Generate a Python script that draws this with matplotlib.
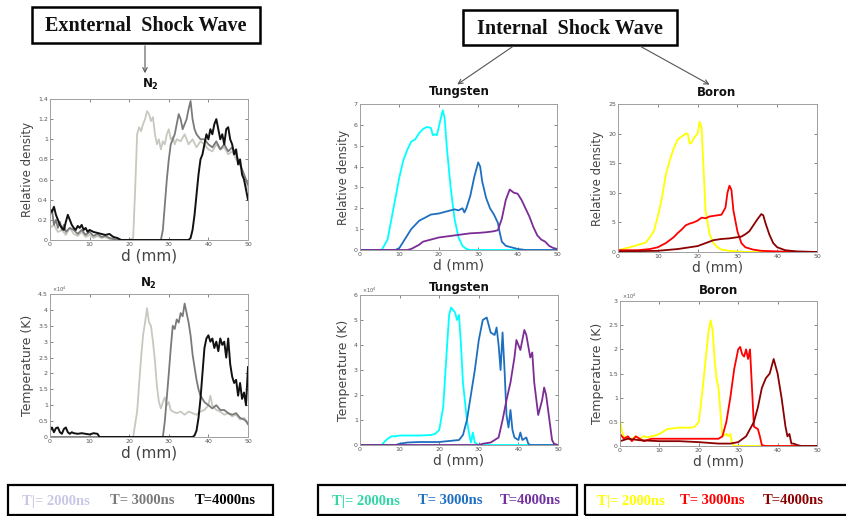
"""
Shock wave profiles - external (N2) and internal (Tungsten / Boron)
Relative density and temperature vs distance at three times
"""

import matplotlib
matplotlib.use("Agg")
import matplotlib.pyplot as plt
import matplotlib.patches as patches
from matplotlib.ticker import FuncFormatter

W, H = 846, 516

# ---------------- External shock wave, N2 ----------------
# relative density
n2_den_x_2000 = [0, 1, 2, 3, 4, 5, 6, 7, 8, 9, 10, 11, 12, 13, 14, 15, 16, 17, 18, 19, 20, 21,
                 21.5, 22, 22.5, 23, 23.5, 24, 24.5, 25, 25.5, 26, 26.5, 27, 27.5, 28, 28.5, 29,
                 29.5, 30, 30.5, 31, 31.5, 32, 33, 34, 35, 36, 37, 38, 39, 40, 41, 42, 43, 44,
                 45, 46, 47, 48, 49, 50]
n2_den_y_2000 = [0.12, 0.15, 0.08, 0.1, 0.05, 0.12, 0.06, 0.04, 0.08, 0.03, 0.05, 0.02, 0.04, 0.02,
                 0.03, 0.01, 0, 0, 0, 0, 0, 0.02, 0.5, 1.05, 1.12, 1.08, 1.15, 1.2, 1.28, 1.25,
                 1.18, 1.22, 1.05, 0.95, 1.0, 0.9, 0.98, 0.95, 1.05, 1.1, 1.0, 1.02, 0.95, 1.0,
                 0.98, 1.05, 0.95, 1.0, 0.92, 0.98, 0.95, 0.9, 0.88, 0.95, 0.9, 0.92, 0.85, 0.88,
                 0.8, 0.75, 0.65, 0.5]

n2_den_x_3000 = [0, 0.5, 1, 1.5, 2, 2.5, 3, 3.5, 4, 5, 6, 7, 8, 9, 10, 11, 12, 13, 14, 15, 16, 17,
                 28, 28.5, 29, 29.5, 30, 30.5, 31, 31.5, 32, 32.5, 33, 33.5, 34, 34.5, 35, 35.5,
                 36, 36.5, 37, 38, 39, 40, 41, 42, 43, 44, 45, 46, 47, 48, 49, 50]
n2_den_y_3000 = [0.25, 0.3, 0.15, 0.2, 0.12, 0.18, 0.1, 0.15, 0.08, 0.12, 0.1, 0.06, 0.1, 0.05,
                 0.08, 0.04, 0.06, 0.03, 0.04, 0.02, 0.01, 0, 0, 0.1, 0.35, 0.6, 0.8, 0.95, 1.0,
                 1.05, 1.15, 1.25, 1.2, 1.1, 1.15, 1.2, 1.3, 1.38, 1.2, 1.1, 1.05, 1.0, 1.0, 0.95,
                 0.92, 0.98, 0.9, 0.95, 0.88, 0.92, 0.85, 0.75, 0.65, 0.55]

n2_den_x_4000 = [0, 0.5, 1, 1.5, 2, 2.5, 3, 3.5, 4, 4.5, 5, 5.5, 6, 6.5, 7, 7.5, 8, 8.5, 9, 9.5,
                 10, 11, 12, 13, 14, 15, 16, 17, 18, 35, 35.5, 36, 36.5, 37, 37.5, 38, 38.5, 39,
                 39.5, 40, 40.5, 41, 41.5, 42, 42.5, 43, 43.5, 44, 44.5, 45, 45.5, 46, 46.5, 47,
                 47.5, 48, 48.5, 49, 49.5, 50]
n2_den_y_4000 = [0.3, 0.28, 0.33, 0.25, 0.2, 0.15, 0.12, 0.1, 0.18, 0.25, 0.2, 0.15, 0.12, 0.1,
                 0.14, 0.12, 0.15, 0.1, 0.12, 0.08, 0.1, 0.08, 0.07, 0.06, 0.05, 0.06, 0.03, 0.02,
                 0, 0, 0.02, 0.1, 0.25, 0.45, 0.65, 0.8, 0.85, 0.95, 1.05, 1.0, 1.1, 1.05, 1.15,
                 1.2, 1.1, 1.0, 1.05, 0.95, 1.1, 1.12, 1.0, 0.95, 0.85, 0.9, 0.75, 0.8, 0.65, 0.6,
                 0.5, 0.4]

# temperature (x 10^4 K)
n2_tmp_x_2000 = [0, 21, 22, 23, 23.5, 24, 24.5, 25, 25.5, 26, 26.5, 27, 27.5, 28, 28.5, 29, 29.5,
                 30, 30.5, 31, 32, 33, 34, 35, 36, 37, 38, 39, 40, 40.5, 41, 42, 43, 44, 45, 46,
                 47, 48, 49, 50]
n2_tmp_y_2000 = [0, 0, 0.8, 2.5, 3.2, 3.6, 4.05, 3.6, 3.5, 3.0, 2.4, 1.6, 1.1, 0.9, 1.1, 1.25, 1.0,
                 1.1, 0.85, 0.8, 0.75, 0.8, 0.7, 0.8, 0.75, 0.7, 0.8, 0.85, 1.0, 1.3, 1.0, 0.85,
                 0.8, 0.7, 0.75, 0.65, 0.7, 0.55, 0.6, 0.45]

n2_tmp_x_3000 = [0, 28.5, 29, 30, 30.5, 31, 31.5, 32, 32.5, 33, 33.5, 34, 34.5, 35, 35.5, 36, 36.5,
                 37, 37.5, 38, 38.5, 39, 40, 41, 42, 43, 44, 45, 46, 47, 48, 49, 49.5, 50]
n2_tmp_y_3000 = [0, 0, 0.5, 2.0, 2.8, 3.5, 3.4, 3.7, 3.6, 3.9, 3.8, 4.2, 3.9, 3.6, 3.2, 2.6, 2.2,
                 1.8, 1.5, 1.3, 1.2, 1.1, 1.0, 0.9, 1.0, 0.85, 0.85, 0.75, 0.7, 0.75, 0.6, 0.55,
                 0.5, 0.4]

n2_tmp_x_4000 = [0, 0.5, 1, 1.5, 2, 2.5, 3, 3.5, 4, 4.5, 5, 5.5, 6, 7, 8, 9, 10, 11, 12, 12.5, 36,
                 36.5, 37, 37.5, 38, 38.5, 39, 39.5, 40, 40.5, 41, 41.5, 42, 42.5, 43, 43.5, 44,
                 44.5, 45, 45.5, 46, 46.5, 47, 47.5, 48, 48.5, 49, 49.5, 50]
n2_tmp_y_4000 = [0.2, 0.3, 0.15, 0.28, 0.3, 0.15, 0.1, 0.25, 0.3, 0.15, 0.1, 0.15, 0.12, 0.1, 0.12,
                 0.1, 0.08, 0.12, 0.1, 0, 0, 0.05, 0.2, 0.6, 1.2, 2.0, 2.8, 3.1, 3.2, 3.0, 3.1,
                 2.8, 3.0, 2.7, 3.1, 2.9, 3.0, 2.5, 3.1, 2.3, 1.9, 1.7, 1.8, 1.3, 1.7, 1.2, 1.4,
                 1.0, 2.2]

# ---------------- Internal shock wave, Tungsten ----------------
w_den_x_2000 = [0, 5.5, 7, 8, 9, 10, 11, 12, 13, 14, 15, 16, 17, 18, 18.5, 19, 19.5, 20, 21, 21.5,
                22, 23, 24, 25, 26, 27, 28, 50]
w_den_y_2000 = [0, 0, 0.5, 1.5, 2.5, 3.5, 4.3, 4.8, 5.2, 5.3, 5.6, 5.8, 5.9, 5.85, 5.5, 5.55, 5.5,
                5.9, 6.7, 6.3, 5.0, 3.0, 1.5, 0.6, 0.2, 0.05, 0, 0]

w_den_x_3000 = [0, 9, 10, 11, 12, 13, 14, 15, 16, 17, 18, 20, 21, 22, 23, 24, 25, 26, 26.5, 27, 28,
                29, 30, 30.5, 31, 32, 33, 34, 35, 35.5, 36, 37, 38, 39, 40, 42, 50]
w_den_y_3000 = [0, 0, 0.1, 0.4, 0.7, 1.0, 1.2, 1.4, 1.5, 1.6, 1.7, 1.75, 1.8, 1.85, 1.9, 1.95, 1.9,
                2.0, 1.8, 2.0, 2.6, 3.5, 4.2, 4.0, 3.3, 2.5, 2.0, 1.7, 1.3, 0.8, 0.4, 0.2, 0.15,
                0.1, 0.05, 0, 0]

w_den_x_4000 = [0, 12, 13, 14, 15, 16, 17, 18, 19, 20, 22, 24, 26, 28, 30, 32, 34, 35, 36, 37, 38,
                39, 40, 41, 42, 43, 44, 45, 46, 47, 48, 49, 50]
w_den_y_4000 = [0, 0, 0.05, 0.15, 0.25, 0.4, 0.45, 0.5, 0.55, 0.6, 0.65, 0.7, 0.75, 0.8, 0.82,
                0.85, 0.9, 0.95, 1.5, 2.4, 2.9, 2.75, 2.7, 2.4, 2.0, 1.6, 1.1, 0.7, 0.5, 0.4, 0.2,
                0.1, 0.05]

w_tmp_x_2000 = [0, 5.5, 6, 7, 8, 9, 10, 12, 15, 18, 19, 20, 21, 22, 22.5, 23, 24, 24.5, 25, 25.5,
                26, 27, 27.5, 28, 28.5, 29, 30, 50]
w_tmp_y_2000 = [0, 0, 0.1, 0.25, 0.35, 0.35, 0.38, 0.38, 0.38, 0.4, 0.45, 0.6, 1.5, 4.0, 5.2, 5.5,
                5.3, 5.0, 5.2, 4.0, 2.5, 1.0, 0.5, 0.1, 0.5, 0.1, 0, 0]

w_tmp_x_3000 = [0, 9, 10, 12, 15, 20, 25, 26, 27, 28, 29, 30, 31, 32, 32.5, 33, 34, 34.5, 35, 35.5,
                36, 36.5, 37, 37.5, 38, 38.5, 39, 40, 40.5, 41, 42, 42.5, 43, 50]
w_tmp_y_3000 = [0, 0, 0.05, 0.1, 0.12, 0.12, 0.2, 0.4, 1.0, 2.0, 3.0, 4.2, 5.0, 5.1, 4.8, 4.5,
                4.4, 4.7, 4.0, 3.0, 4.5, 3.0, 1.2, 0.7, 1.4, 0.6, 0.3, 0.2, 0.5, 0.2, 0.3, 0.05,
                0, 0]

w_tmp_x_4000 = [0, 30, 31, 33, 35, 36, 37, 38, 39, 39.5, 40, 40.5, 41, 41.5, 42, 43, 43.5, 44, 45,
                46, 46.5, 47, 48, 48.5, 49, 50]
w_tmp_y_4000 = [0, 0, 0.05, 0.1, 0.3, 1.0, 1.8, 2.5, 3.5, 4.2, 4.0, 3.8, 4.2, 4.6, 4.4, 3.5, 3.7,
                2.5, 1.2, 1.8, 2.3, 2.0, 0.8, 0.2, 0.05, 0]

# ---------------- Internal shock wave, Boron ----------------
b_den_x_2000 = [0, 3, 5, 7, 8, 9, 10, 11, 12, 13, 14, 15, 16, 17, 17.5, 18, 18.5, 19, 20, 20.5, 21,
                21.5, 22, 23, 24, 25, 26, 28, 30, 32, 50]
b_den_y_2000 = [0.3, 0.8, 1.2, 1.6, 2.5, 3.5, 6, 9, 13, 15.5, 17.5, 19, 19.5, 20, 20, 18.3, 18.5,
                19.2, 20, 22, 21, 14, 7, 3, 1.5, 0.8, 0.4, 0.2, 0.1, 0, 0]

b_den_x_3000 = [0, 5, 8, 10, 12, 14, 15, 16, 17, 18, 19, 20, 21, 22, 23, 25, 26, 27, 27.5, 28, 28.5,
                29, 30, 31, 32, 34, 36, 40, 45, 50]
b_den_y_3000 = [0.3, 0.3, 0.5, 0.8, 1.5, 2.5, 3.2, 3.8, 4.5, 4.8, 5.0, 5.3, 5.8, 5.7, 6.0, 6.2,
                6.3, 7.5, 10, 11.2, 10.5, 7, 3.5, 1.5, 0.8, 0.4, 0.2, 0.1, 0, 0]

b_den_x_4000 = [0, 10, 15, 20, 22, 24, 26, 28, 30, 31, 32, 33, 34, 35, 36, 36.5, 37, 38, 39, 40,
                42, 45, 50]
b_den_y_4000 = [0.1, 0.2, 0.5, 1.0, 1.5, 2.0, 2.2, 2.3, 2.5, 2.6, 3.0, 3.5, 4.5, 5.5, 6.4, 6.2,
                5.0, 3.0, 1.5, 0.8, 0.3, 0.1, 0]

b_tmp_x_2000 = [0, 0.5, 1, 2, 3, 4, 5, 6, 7, 8, 9, 10, 12, 15, 18, 19, 20, 21, 22, 22.5, 23, 23.5,
                24, 24.5, 25, 25.5, 26, 27, 27.5, 28, 28.5, 29, 50]
b_tmp_y_2000 = [0.55, 0.3, 0.2, 0.15, 0.15, 0.2, 0.15, 0.2, 0.18, 0.2, 0.22, 0.25, 0.35, 0.38,
                0.38, 0.4, 0.5, 1.2, 2.0, 2.4, 2.6, 2.4, 1.8, 1.4, 1.2, 0.7, 0.2, 0.25, 0.2, 0.25,
                0.05, 0, 0]

b_tmp_x_3000 = [0, 1, 2, 3, 4, 5, 6, 8, 10, 15, 20, 25, 26, 27, 28, 29, 30, 30.5, 31, 31.5, 32,
                32.5, 33, 33.5, 34, 35, 35.5, 36, 37, 50]
b_tmp_y_3000 = [0.25, 0.15, 0.2, 0.1, 0.2, 0.15, 0.1, 0.15, 0.15, 0.15, 0.15, 0.15, 0.2, 0.5, 1.0,
                1.6, 2.0, 2.05, 1.9, 1.85, 2.0, 1.8, 2.0, 1.2, 0.4, 0.35, 0.2, 0.02, 0, 0]

b_tmp_x_4000 = [0, 2, 5, 10, 15, 20, 25, 28, 30, 32, 34, 35, 36, 37, 38, 39, 40, 41, 42, 42.5, 43,
                43.5, 44, 45, 46, 50]
b_tmp_y_4000 = [0.1, 0.15, 0.12, 0.1, 0.1, 0.08, 0.05, 0.05, 0.08, 0.2, 0.5, 0.8, 1.2, 1.4, 1.5,
                1.8, 1.5, 1.0, 0.4, 0.2, 0.25, 0.05, 0.05, 0.02, 0, 0]

# Colours and legend labels
GREYS = ["#c8c8c0", "#7a7a7a", "#111111"]
TUNGSTEN = ["#00ffff", "#1f6fc0", "#7b2d95"]
BORON = ["#ffff00", "#ff0000", "#8b0000"]
LEGEND_LABELS = ["T|= 2000ns", "T= 3000ns", "T=4000ns"]
LEGEND_GREYS = ["#c8c8e6", "#7a7a7a", "#000000"]
LEGEND_TUNGSTEN = ["#33d6a6", "#1f6fc0", "#7030a0"]
LEGEND_BORON = ["#ffff00", "#ff0000", "#8b0000"]


def fig_xy(x, y):
    """Pixel coordinates (from top-left) to figure fraction"""
    return x / W, 1 - y / H


def make_axes(fig, left, top, right, bottom):
    ax = fig.add_axes([left / W, 1 - bottom / H, (right - left) / W, (bottom - top) / H])
    ax.tick_params(direction="in", top=True, right=True, length=2, width=0.5,
                   labelsize=4.5, colors="#555555", pad=1.5)
    for sp in ax.spines.values():
        sp.set_color("#a0a0a0")
        sp.set_linewidth(0.7)
    ax.set_xlim(0, 50)
    ax.set_xticks([0, 10, 20, 30, 40, 50])
    ax.yaxis.set_major_formatter(FuncFormatter(lambda v, p: f"{v:g}"))
    return ax


def style_labels(ax, ylabel, xsize=10, ysize=8.5, xpad=1, ypad=3):
    ax.set_xlabel("d (mm)", fontsize=xsize, color="#444444", labelpad=xpad)
    ax.set_ylabel(ylabel, fontsize=ysize, color="#444444", labelpad=ypad)


def exponent(ax):
    ax.text(0.01, 1.0, r"$\times10^4$", transform=ax.transAxes, fontsize=3.5,
            color="#555555", ha="left", va="bottom")


fig = plt.figure(figsize=(W / 100, H / 100), dpi=100)

# External density
ax = make_axes(fig, 50, 99, 248, 240)
ax.plot(n2_den_x_2000, n2_den_y_2000, color=GREYS[0], lw=1.3)
ax.plot(n2_den_x_3000, n2_den_y_3000, color=GREYS[1], lw=1.3)
ax.plot(n2_den_x_4000, n2_den_y_4000, color=GREYS[2], lw=1.4)
ax.set_ylim(0, 1.4)
ax.set_yticks([0, 0.2, 0.4, 0.6, 0.8, 1.0, 1.2, 1.4])
style_labels(ax, "Relative density", xsize=11, ysize=8.5)

# External temperature
ax = make_axes(fig, 50, 294, 248, 437)
ax.plot(n2_tmp_x_2000, n2_tmp_y_2000, color=GREYS[0], lw=1.3)
ax.plot(n2_tmp_x_3000, n2_tmp_y_3000, color=GREYS[1], lw=1.3)
ax.plot(n2_tmp_x_4000, n2_tmp_y_4000, color=GREYS[2], lw=1.4)
ax.set_ylim(0, 4.5)
ax.set_yticks([0, 0.5, 1, 1.5, 2, 2.5, 3, 3.5, 4, 4.5])
style_labels(ax, "Temperature (K)", xsize=11, ysize=9)
exponent(ax)

# Tungsten density
ax = make_axes(fig, 360, 104, 557, 250)
for xs, ys, c in zip([w_den_x_2000, w_den_x_3000, w_den_x_4000],
                     [w_den_y_2000, w_den_y_3000, w_den_y_4000], TUNGSTEN):
    ax.plot(xs, ys, color=c, lw=1.3)
ax.set_ylim(0, 7)
ax.set_yticks(range(8))
style_labels(ax, "Relative density")

# Boron density
ax = make_axes(fig, 618, 104, 817, 252)
for xs, ys, c in zip([b_den_x_2000, b_den_x_3000, b_den_x_4000],
                     [b_den_y_2000, b_den_y_3000, b_den_y_4000], BORON):
    ax.plot(xs, ys, color=c, lw=1.3)
ax.set_ylim(0, 25)
ax.set_yticks([0, 5, 10, 15, 20, 25])
style_labels(ax, "Relative density")

# Tungsten temperature
ax = make_axes(fig, 360, 295, 558, 445)
for xs, ys, c in zip([w_tmp_x_2000, w_tmp_x_3000, w_tmp_x_4000],
                     [w_tmp_y_2000, w_tmp_y_3000, w_tmp_y_4000], TUNGSTEN):
    ax.plot(xs, ys, color=c, lw=1.3)
ax.set_ylim(0, 6)
ax.set_yticks(range(7))
style_labels(ax, "Temperature (K)", ysize=9)
exponent(ax)

# Boron temperature
ax = make_axes(fig, 620, 301, 817, 446)
for xs, ys, c in zip([b_tmp_x_2000, b_tmp_x_3000, b_tmp_x_4000],
                     [b_tmp_y_2000, b_tmp_y_3000, b_tmp_y_4000], BORON):
    ax.plot(xs, ys, color=c, lw=1.3)
ax.set_ylim(0, 3)
ax.set_yticks([0, 0.5, 1, 1.5, 2, 2.5, 3])
style_labels(ax, "Temperature (K)", ysize=9)
exponent(ax)

# Panel titles
for s, x, y in [(r"N$_\mathbf{2}$", 150, 84), (r"N$_\mathbf{2}$", 148, 283),
                ("Tungsten", 459, 92), ("Boron", 717, 92),
                ("Tungsten", 459, 287), ("Boron", 719, 290)]:
    fig.text(*fig_xy(x, y), s, ha="center", va="center", fontsize=8.5,
             fontweight="bold", color="#111111")

# Header boxes
serif = "Liberation Serif"
for text, x0, y0, x1, y1 in [("Exnternal  Shock Wave", 32, 7, 260, 43),
                             ("Internal  Shock Wave", 463, 10, 677, 45)]:
    fx, fy = fig_xy(x0, y1)
    fig.add_artist(patches.Rectangle((fx, fy), (x1 - x0) / W, (y1 - y0) / H, fill=False,
                                     ec="black", lw=1.8, transform=fig.transFigure))
    fig.text(*fig_xy((x0 + x1) / 2, (y0 + y1) / 2 + 1), text, ha="center", va="center",
             fontsize=14.5, fontweight="bold", family=serif, color="#111111")

# Arrows
for (xa, ya), (xb, yb) in [((145, 43), (145, 76)), ((515, 45), (455, 86)),
                           ((638, 45), (712, 86))]:
    fig.add_artist(patches.FancyArrowPatch(fig_xy(xa, ya), fig_xy(xb, yb),
                                           transform=fig.transFigure, arrowstyle="->",
                                           mutation_scale=8, color="#555555", lw=0.8))

# Legend boxes
legend_boxes = [(8, 273, [56, 142, 225], LEGEND_GREYS),
                (318, 577, [366, 450, 530], LEGEND_TUNGSTEN),
                (585, 852, [631, 712, 793], LEGEND_BORON)]
for x0, x1, centres, cols in legend_boxes:
    fx, fy = fig_xy(x0, 515)
    fig.add_artist(patches.Rectangle((fx, fy), (x1 - x0) / W, 30 / H, fill=False,
                                     ec="black", lw=1.6, transform=fig.transFigure))
    for cx, lab, col in zip(centres, LEGEND_LABELS, cols):
        fig.text(*fig_xy(cx, 501), lab, ha="center", va="center", fontsize=10.5,
                 fontweight="bold", family=serif, color=col)

fig.savefig("out.png", dpi=100)
